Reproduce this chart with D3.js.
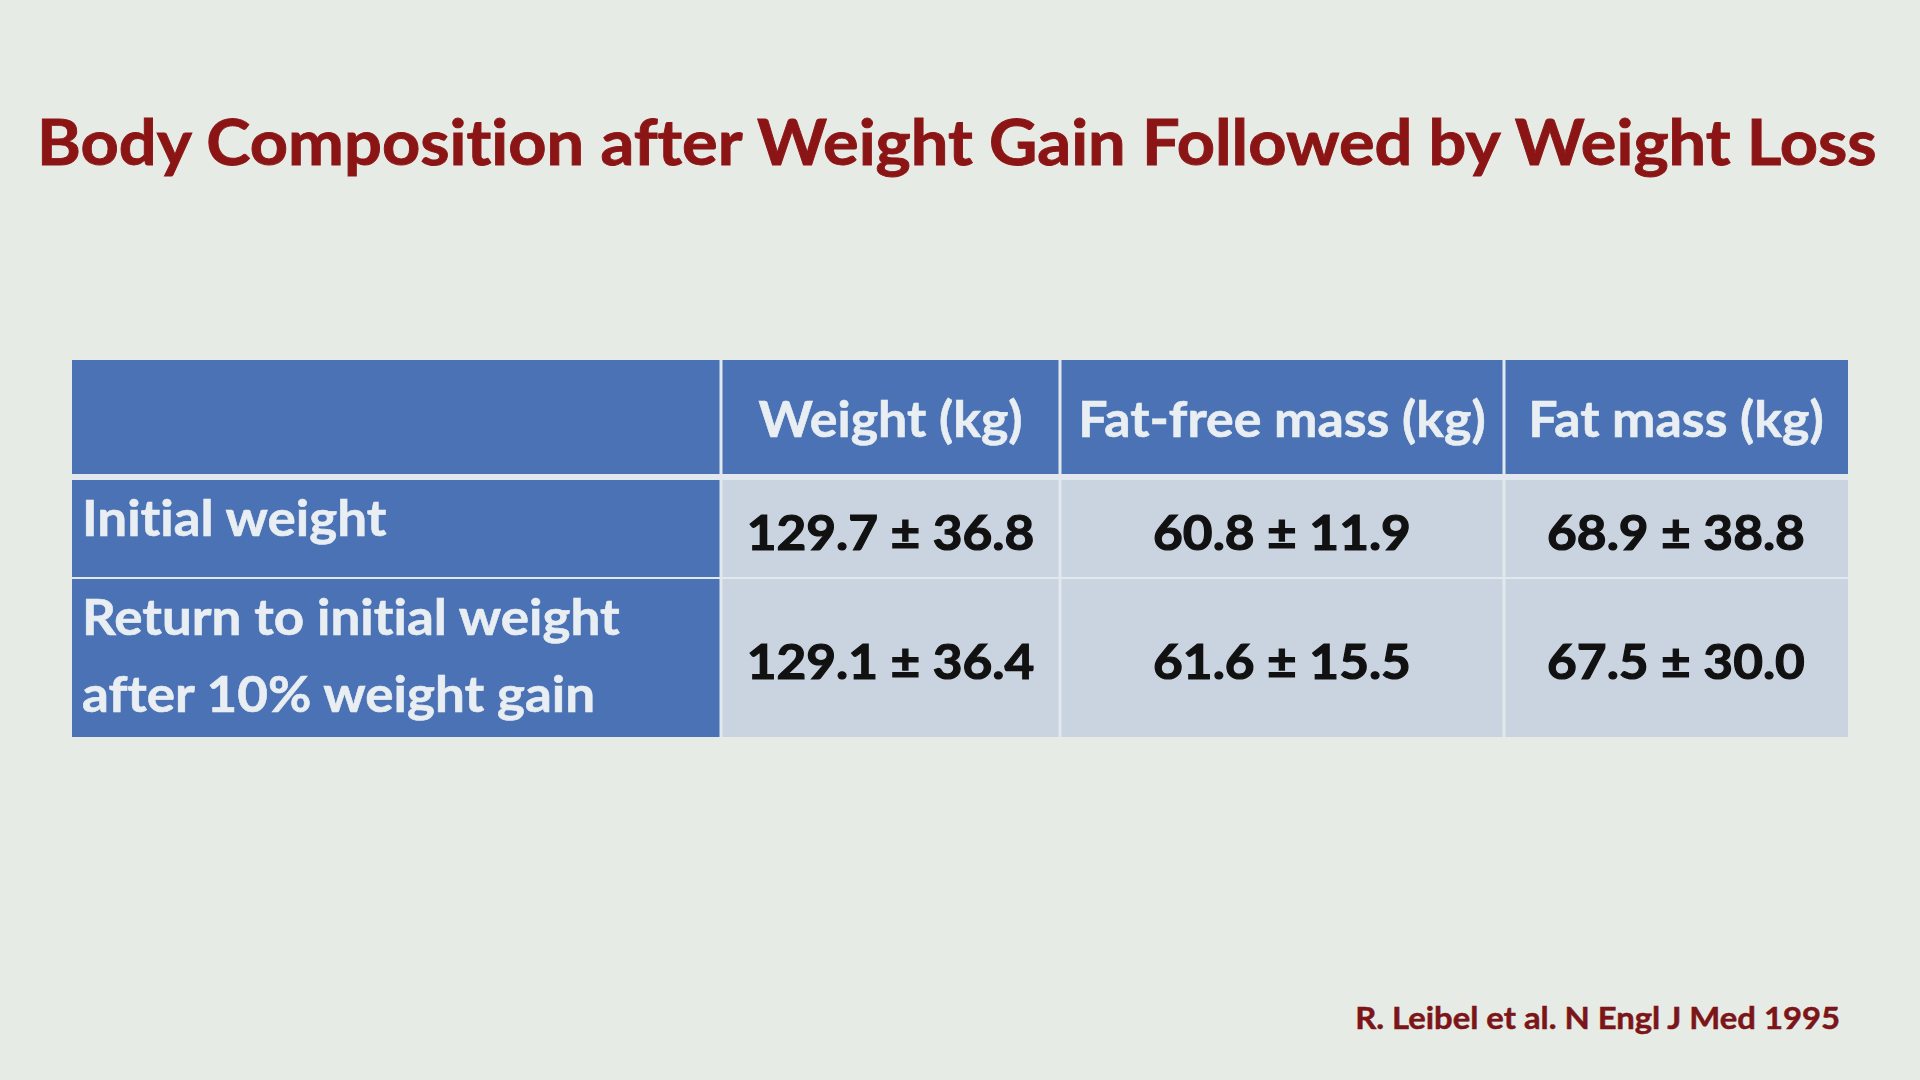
<!DOCTYPE html>
<html>
<head>
<meta charset="utf-8">
<script src="https://cdn.jsdelivr.net/npm/d3@7"></script>
<style>
  html, body { margin: 0; padding: 0; background: #e7ebe6; }
  svg { display: block; }
  text { font-family: Lato, "Open Sans", "DejaVu Sans", sans-serif; font-weight: 700;
         font-variant-ligatures: none; font-feature-settings: "liga" 0, "clig" 0; }
</style>
</head>
<body>
<svg id="chart" width="1920" height="1080"></svg>
<script>
// ---- data ----
const titleText = "Body Composition after Weight Gain Followed by Weight Loss";
const columnHeaders = ["", "Weight (kg)", "Fat-free mass (kg)", "Fat mass (kg)"];
const rowLabels = [["Initial weight"], ["Return to initial weight", "after 10% weight gain"]];
const meanValues = [[129.7, 60.8, 68.9], [129.1, 61.6, 67.5]];
const sdValues = [[36.8, 11.9, 38.8], [36.4, 15.5, 30.0]];
const sourceText = "R. Leibel et al. N Engl J Med 1995";

// ---- layout ----
const W = 1920, H = 1080;
const colWeights = [649, 339, 444, 344];
const tableLeft = 72, tableRight = 1848;
const rowBands = [[360, 474], [480, 577], [579, 737]];
const gap = 1.5;

const colors = {
  bg: "#e7ebe6", blue: "#4a72b4", cell: "#cad4e0", gapLine: "#e1e8ee",
  headText: "#e8eef2", dataText: "#111111", title: "#8b1515", source: "#7b1518"
};

const svg = d3.select("#chart");
svg.append("rect").attr("width", W).attr("height", H).attr("fill", colors.bg);

const cum = [0];
colWeights.forEach(w => cum.push(cum[cum.length - 1] + w));
const x = d3.scaleLinear().domain([0, cum[cum.length - 1]]).range([tableLeft, tableRight]);
const colEdges = cum.map(c => x(c));

// title (also determines horizontal condense factor for the substitute font)
const titleG = svg.append("g");
const tEl = titleG.append("text").attr("font-size", 63).attr("fill", colors.title)
  .attr("stroke", colors.title).attr("stroke-width", 0.9).text(titleText);
const natural = tEl.node().getComputedTextLength();
const k = (1877 - 37) / natural;
titleG.attr("transform", `translate(37,165) scale(${k},1)`);

function addText(parent, str, px, py, size, fill, anchor, sw) {
  const t = parent.append("g").attr("transform", `translate(${px},${py}) scale(${k},1)`)
    .append("text").attr("font-size", size).attr("fill", fill)
    .attr("text-anchor", anchor).text(str);
  if (sw) t.attr("stroke", fill).attr("stroke-width", sw);
  return t;
}

// table background gap colour
const table = svg.append("g");
table.append("rect")
  .attr("x", tableLeft).attr("y", rowBands[0][0])
  .attr("width", tableRight - tableLeft).attr("height", rowBands[2][1] - rowBands[0][0])
  .attr("fill", colors.gapLine);

// cells
const cells = [];
rowBands.forEach((rb, ri) => {
  columnHeaders.forEach((h, ci) => {
    cells.push({ ri, ci, x0: colEdges[ci], x1: colEdges[ci + 1], y0: rb[0], y1: rb[1] });
  });
});
table.selectAll("rect.cell").data(cells).join("rect").attr("class", "cell")
  .attr("x", d => d.x0 + (d.ci === 0 ? 0 : gap))
  .attr("y", d => d.y0)
  .attr("width", d => d.x1 - d.x0 - (d.ci === 0 ? 0 : gap) - (d.ci === 3 ? 0 : gap))
  .attr("height", d => d.y1 - d.y0)
  .attr("fill", d => (d.ri === 0 || d.ci === 0) ? colors.blue : colors.cell);

// header text
columnHeaders.forEach((h, ci) => {
  if (!h) return;
  const cx = (colEdges[ci] + colEdges[ci + 1]) / 2;
  const cy = (rowBands[0][0] + rowBands[0][1]) / 2;
  addText(table, h, cx, cy + 20, 49, colors.headText, "middle", 0.6);
});

// row labels
const labelBaselines = [[536], [635, 712]];
rowLabels.forEach((lines, ri) => {
  lines.forEach((ln, li) => {
    addText(table, ln, colEdges[0] + 10, labelBaselines[ri][li], 50, colors.headText, "start", 0.6);
  });
});

// data values
const fmt = d3.format(".1f");
meanValues.forEach((row, ri) => {
  const rb = rowBands[ri + 1];
  const cy = (rb[0] + rb[1]) / 2;
  row.forEach((m, j) => {
    const ci = j + 1;
    const cx = (colEdges[ci] + colEdges[ci + 1]) / 2;
    addText(table, `${fmt(m)} ± ${fmt(sdValues[ri][j])}`, cx, cy + 21, 48.5, colors.dataText, "middle", 1.2);
  });
});

// source
addText(svg, sourceText, 1840, 1029, 31, colors.source, "end", 0.5);
</script>
</body>
</html>
